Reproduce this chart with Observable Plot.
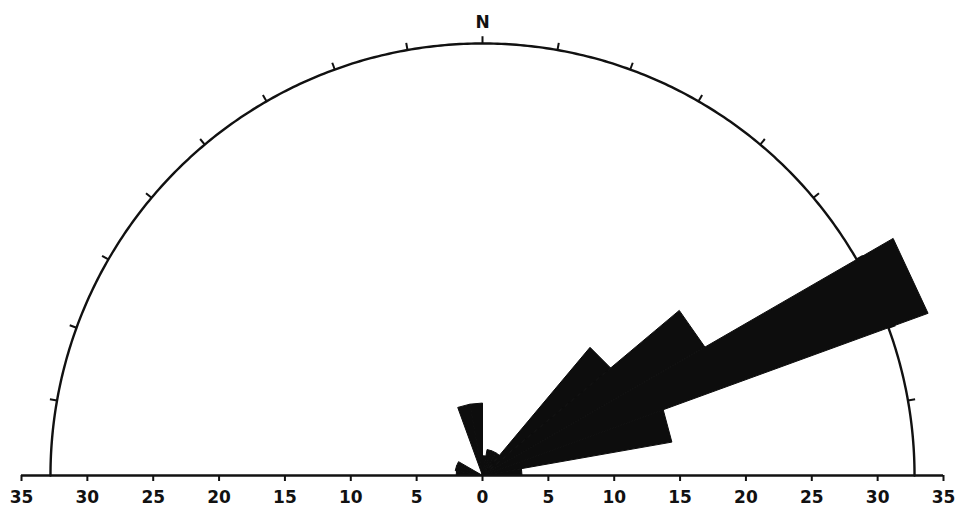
<!DOCTYPE html>
<html>
<head>
<meta charset="utf-8">
<script src="https://cdn.jsdelivr.net/npm/d3@7"></script>
<script src="https://cdn.jsdelivr.net/npm/@observablehq/plot@0.6"></script>
<style>
  html, body { margin: 0; padding: 0; background: #fff; }
  #chart svg { display: block; font-family: "DejaVu Sans", "Liberation Sans", sans-serif; }
  #chart svg text { font-weight: bold; }
</style>
</head>
<body>
<div id="chart"></div>
<script>
// Rose diagram of orientations, 10-degree bins measured clockwise from north.
const binStart = [-90, -80, -70, -20, -10, 0, 10, 20, 30, 40, 50, 60, 70, 80];
const binValue = [2.0, 2.1, 2.1, 5.5, 5.5, 1.5, 2.0, 2.0, 2.0, 12.7, 19.5, 36.0, 14.6, 3.0];
const binWidth = 10;

// Reference circle and its azimuth ticks
const circleRadius = 32.8;
const circleTickAzimuths = [-80, -70, -60, -50, -40, -30, -20, -10, 0, 10, 20, 30, 40, 50, 60, 70, 80];

// Scale along the base line
const axisTicks = [-35, -30, -25, -20, -15, -10, -5, 0, 5, 10, 15, 20, 25, 30, 35];
const northLabel = "N";

const width = 955, height = 509;
const marginLeft = 21, marginRight = 12, marginTop = 0, marginBottom = 34;
const unit = (width - marginLeft - marginRight) / 70;
const yMax = (height - marginTop - marginBottom) / unit;

const rad = Math.PI / 180;
const polar = (az, r) => ({x: r * Math.sin(az * rad), y: r * Math.cos(az * rad)});

// Each petal is a triangle from the centre to the two bin edges
const petals = binStart.flatMap((a0, i) => {
  const v = binValue[i], a1 = a0 + binWidth;
  return [
    {bin: i, ...polar(a0, 0)},
    {bin: i, ...polar(a0, v)},
    {bin: i, ...polar(a1, v)},
    {bin: i, ...polar(a1, 0)}
  ];
});

const arc = d3.range(-90, 90.01, 0.5).map(a => polar(a, circleRadius));
const arcTicks = circleTickAzimuths.map(a => {
  const p = polar(a, circleRadius), q = polar(a, circleRadius + 0.55);
  return {x1: p.x, y1: p.y, x2: q.x, y2: q.y};
});

const chart = Plot.plot({
  width, height, marginLeft, marginRight, marginTop, marginBottom,
  x: {domain: [-35, 35], axis: null},
  y: {domain: [0, yMax], axis: null},
  marks: [
    Plot.line(arc, {x: "x", y: "y", stroke: "#111", strokeWidth: 2.4, curve: "linear"}),
    Plot.link(arcTicks, {x1: "x1", y1: "y1", x2: "x2", y2: "y2", stroke: "#111", strokeWidth: 2}),
    Plot.line(petals, {x: "x", y: "y", z: "bin", fill: "#0d0d0d", stroke: "#0d0d0d", strokeWidth: 1}),
    Plot.ruleY([0], {stroke: "#111", strokeWidth: 2.4}),
    Plot.axisX(axisTicks, {
      anchor: "bottom", tickSize: 6, tickPadding: 9, strokeWidth: 2,
      tickFormat: d => Math.abs(d), fontSize: 17, stroke: "#111", fill: "#111"
    }),
    Plot.text([northLabel], {x: 0, y: circleRadius + 1.6, text: d => d, fontSize: 17, fill: "#111", lineAnchor: "middle"})
  ]
});
document.getElementById("chart").append(chart);
</script>
</body>
</html>
